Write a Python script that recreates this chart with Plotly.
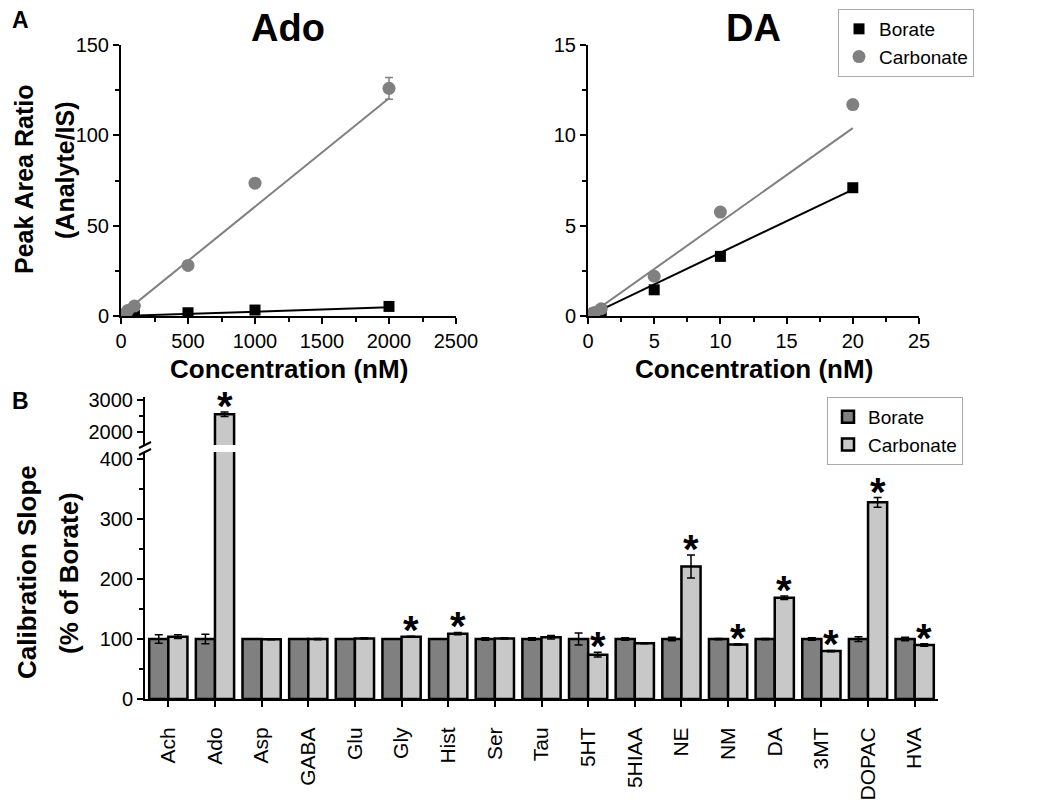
import plotly.graph_objects as go
import numpy as np

FONT = "Liberation Sans, Arial, sans-serif"
W, H = 1050, 807

# ---------------- Panel A data ----------------
ado_conc = [10, 50, 100, 500, 1000, 2000]
ado_borate = [0.05, 0.2, 0.4, 1.8, 3.3, 5.3]
ado_carbonate = [0.6, 3.0, 5.5, 28.0, 73.5, 126.0]
ado_carbonate_err = [0, 0, 0, 1, 1, 6]
ado_fit_borate = (0.0024, 0.0)      # slope, intercept
ado_fit_carbonate = (0.060, 0.5)

da_conc = [0.1, 0.5, 1, 5, 10, 20]
da_borate = [0.03, 0.15, 0.3, 1.45, 3.3, 7.1]
da_carbonate = [0.05, 0.2, 0.4, 2.2, 5.75, 11.7]
da_fit_borate = (0.35, 0.0)
da_fit_carbonate = (0.52, 0.0)

# ---------------- Panel B data ----------------
analytes = ["Ach", "Ado", "Asp", "GABA", "Glu", "Gly", "Hist", "Ser", "Tau",
            "5HT", "5HIAA", "NE", "NM", "DA", "3MT", "DOPAC", "HVA"]
borate_pct = [100] * 17
borate_err = [7, 8, 0.5, 0.5, 0.5, 0.5, 0.5, 2, 2, 10, 2, 3, 1, 1, 2, 4, 3]
carbonate_pct = [104, 2560, 99.5, 100, 101, 104, 109, 101, 103, 74, 93, 221, 91, 169, 80, 328, 90]
carbonate_err = [3, 70, 0.5, 1, 1, 0.5, 2, 1, 3, 4, 1, 19, 1, 3, 1, 8, 2]
significant = [0, 1, 0, 0, 0, 1, 1, 0, 0, 1, 0, 1, 1, 1, 1, 1, 1]

BORATE_BAR = "#808080"
CARB_BAR = "#c8c8c8"
GRAY = "#808080"


def px_x(p):
    return p / W


def px_y(p):
    return 1 - p / H


fig = go.Figure()

# ---- Ado panel ----
for (slope, icpt), color in [(ado_fit_borate, "black"), (ado_fit_carbonate, GRAY)]:
    xs = np.array([0, max(ado_conc)])
    fig.add_trace(go.Scatter(x=xs, y=slope * xs + icpt, mode="lines",
                             line=dict(color=color, width=2), showlegend=False,
                             xaxis="x", yaxis="y", hoverinfo="skip"))
fig.add_trace(go.Scatter(x=ado_conc, y=ado_borate, mode="markers",
                         marker=dict(symbol="square", size=11, color="black"),
                         showlegend=False, xaxis="x", yaxis="y"))
fig.add_trace(go.Scatter(x=ado_conc, y=ado_carbonate, mode="markers",
                         marker=dict(symbol="circle", size=13, color=GRAY),
                         error_y=dict(type="data", array=ado_carbonate_err, color=GRAY,
                                      thickness=1.5, width=4),
                         showlegend=False, xaxis="x", yaxis="y"))

# ---- DA panel ----
for (slope, icpt), color in [(da_fit_borate, "black"), (da_fit_carbonate, GRAY)]:
    xs = np.array([0, max(da_conc)])
    fig.add_trace(go.Scatter(x=xs, y=slope * xs + icpt, mode="lines",
                             line=dict(color=color, width=2), showlegend=False,
                             xaxis="x2", yaxis="y2", hoverinfo="skip"))
fig.add_trace(go.Scatter(x=da_conc, y=da_borate, mode="markers", name="Borate",
                         marker=dict(symbol="square", size=11, color="black"),
                         legend="legend", xaxis="x2", yaxis="y2"))
fig.add_trace(go.Scatter(x=da_conc, y=da_carbonate, mode="markers", name="Carbonate",
                         marker=dict(symbol="circle", size=13, color=GRAY),
                         legend="legend", xaxis="x2", yaxis="y2"))

# ---- Bar panel (lower and upper broken axes) ----
for yax, show in [("y3", True), ("y4", False)]:
    fig.add_trace(go.Bar(x=analytes, y=borate_pct, name="Borate",
                         marker=dict(color=BORATE_BAR, line=dict(color="black", width=2.5)),
                         error_y=dict(type="data", array=borate_err, color="black",
                                      thickness=1.5, width=4),
                         showlegend=show, legend="legend2", xaxis="x3", yaxis=yax))
    fig.add_trace(go.Bar(x=analytes, y=carbonate_pct, name="Carbonate",
                         marker=dict(color=CARB_BAR, line=dict(color="black", width=2.5)),
                         error_y=dict(type="data", array=carbonate_err, color="black",
                                      thickness=1.5, width=4),
                         showlegend=show, legend="legend2", xaxis="x3", yaxis=yax))

LOWER_MAX = 412

annotations = []
for name, val, err, sig in zip(analytes, carbonate_pct, carbonate_err, significant):
    if not sig:
        continue
    yref = "y3" if val + err < LOWER_MAX else "y4"
    annotations.append(dict(x=name, y=val + err, xref="x3", yref=yref, text="<b>*</b>",
                            showarrow=False, xshift=9.6, yshift=6, xanchor="center",
                            yanchor="middle",
                            font=dict(family=FONT, size=40, color="black")))


def label(text, x, y, size, angle=0):
    return dict(x=px_x(x), y=px_y(y), xref="paper", yref="paper", text=text,
                textangle=angle, showarrow=False, xanchor="center", yanchor="middle",
                font=dict(family=FONT, size=size, color="black"))


# Titles and labels
annotations += [
    label("<b>Ado</b>", 288, 28, 38),
    label("<b>DA</b>", 753, 28, 38),
    label("<b>A</b>", 20, 20, 23),
    label("<b>B</b>", 20, 401, 23),
    label("<b>Concentration (nM)</b>", 289, 369, 26),
    label("<b>Concentration (nM)</b>", 754, 369, 26),
    label("<b>Peak Area Ratio</b>", 24, 180, 25, -90),
    label("<b>(Analyte/IS)</b>", 65, 170, 25, -90),
    label("<b>Calibration Slope</b>", 27, 572, 26, -90),
    label("<b>(% of Borate)</b>", 69, 573, 26, -90),
]

# Axis break marks
shapes = []
for yb in (445, 452):
    shapes.append(dict(type="line", xref="paper", yref="paper",
                       x0=px_x(139), y0=px_y(yb + 3), x1=px_x(151), y1=px_y(yb - 3),
                       line=dict(color="black", width=2)))

tickfont = dict(family=FONT, size=20, color="black")
common = dict(showline=True, linecolor="black", linewidth=2, ticks="outside",
              ticklen=6, tickwidth=2, tickcolor="black", showgrid=False, zeroline=False,
              tickfont=tickfont, mirror=False, automargin=False)
minor = lambda d: dict(dtick=d, ticks="outside", ticklen=4, tickwidth=2, tickcolor="black", showgrid=False)

fig.update_layout(
    template="none",
    width=W, height=H,
    margin=dict(l=0, r=0, t=0, b=0, pad=0, autoexpand=False),
    paper_bgcolor="white", plot_bgcolor="rgba(0,0,0,0)",
    font=dict(family=FONT, color="black"),
    barmode="group", bargap=0.18, bargroupgap=0,
    xaxis=dict(domain=[px_x(121), px_x(456)], range=[0, 2500], dtick=500,
               minor=minor(250), anchor="y", **common),
    yaxis=dict(domain=[px_y(316), px_y(45)], range=[0, 150], dtick=50,
               minor=minor(25), anchor="x", **common),
    xaxis2=dict(domain=[px_x(588), px_x(919)], range=[0, 25], dtick=5,
                minor=minor(2.5), anchor="y2", **common),
    yaxis2=dict(domain=[px_y(316), px_y(45)], range=[0, 15], dtick=5,
                minor=minor(2.5), anchor="x2", **common),
    xaxis3=dict(domain=[px_x(145), px_x(938)], range=[-0.5, 16.5], type="category",
                tickangle=-90, anchor="y3", ticklabelstandoff=12,
                **{**common, "tickfont": dict(family=FONT, size=21, color="black")}),
    yaxis3=dict(domain=[px_y(699), px_y(452)], range=[0, LOWER_MAX], dtick=100,
                minor=minor(50), anchor="x3", **common),
    yaxis4=dict(domain=[px_y(445), px_y(397)], range=[1600, 3100],
                tickvals=[2000, 3000], minor=dict(tickvals=[2500], ticks="outside", ticklen=4,
                                                  tickwidth=2, tickcolor="black", showgrid=False),
                anchor="x3", **common),
    legend=dict(x=px_x(838), y=px_y(9), xanchor="left", yanchor="top",
                bordercolor="#aaaaaa", borderwidth=1, bgcolor="white",
                font=dict(family=FONT, size=19, color="black"), tracegroupgap=0,
                itemwidth=30),
    legend2=dict(x=px_x(827), y=px_y(397), xanchor="left", yanchor="top",
                 bordercolor="#aaaaaa", borderwidth=1, bgcolor="white",
                 font=dict(family=FONT, size=19, color="black"), tracegroupgap=0,
                 itemwidth=30),
    annotations=annotations,
    shapes=shapes,
)

fig.write_html("out.html", config={"displayModeBar": False},
               post_script="document.body.style.margin='0';")
